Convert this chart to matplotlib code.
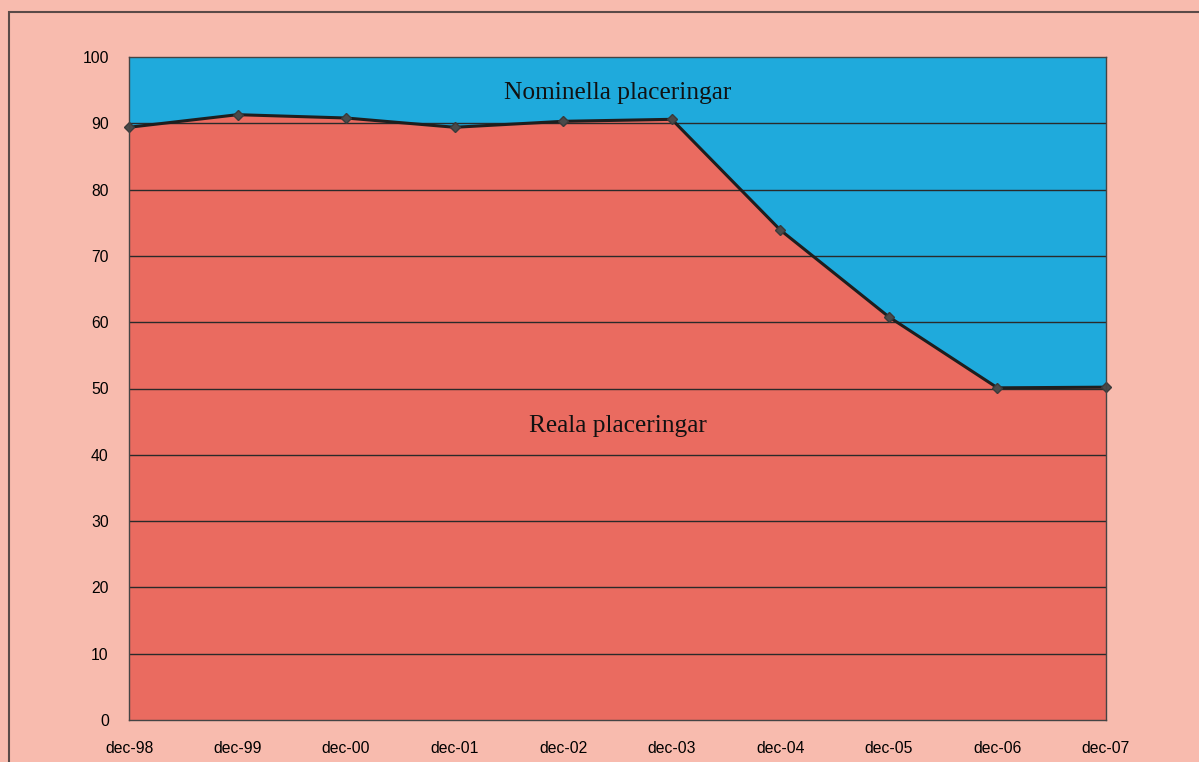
import matplotlib
matplotlib.use("Agg")
import matplotlib.pyplot as plt
from matplotlib.patches import Rectangle

labels = ["dec-98", "dec-99", "dec-00", "dec-01", "dec-02", "dec-03",
          "dec-04", "dec-05", "dec-06", "dec-07"]
reala = [89.4, 91.3, 90.8, 89.4, 90.3, 90.6, 73.9, 60.8, 50.1, 50.2]
yticks = [0, 10, 20, 30, 40, 50, 60, 70, 80, 90, 100]

bg = "#F8BBAE"
red = "#EA6B60"
blue = "#1FAADC"

fig = plt.figure(figsize=(11.99, 7.62), dpi=100)
fig.patch.set_facecolor(bg)
fig.patches.append(Rectangle((9/1199, -0.2), 1.2, 1.2 - 12/762,
                             transform=fig.transFigure, fill=False,
                             edgecolor="#5a4a48", linewidth=1.5))

ax = fig.add_axes([129/1199, 42/762, 977/1199, 663/762])
x = list(range(len(labels)))
ax.set_facecolor(blue)
ax.fill_between(x, 0, reala, color=red, zorder=1, linewidth=0)
for yv in yticks[1:-1]:
    ax.axhline(yv, color="#2a2a2a", linewidth=1.0, zorder=2)
ax.plot(x, reala, color="#1e1e1e", linewidth=2.2, zorder=3,
        marker="D", markersize=5, markerfacecolor="#4a4a4a",
        markeredgecolor="#3a3a3a", clip_on=False)

ax.set_xlim(0, 9)
ax.set_ylim(0, 100)
ax.set_yticks(yticks)
ax.set_xticks(x)
ax.set_xticklabels(labels)
ax.tick_params(length=0, labelsize=11.3)
ax.tick_params(axis="x", pad=15)
ax.tick_params(axis="y", pad=14.5)
for lab in ax.get_xticklabels() + ax.get_yticklabels():
    lab.set_family("Liberation Sans")
for s in ax.spines.values():
    s.set_color("#444444")
    s.set_linewidth(1.0)
    s.set_zorder(4)

ax.text(0.5, 0.9455, "Nominella placeringar", transform=ax.transAxes,
        ha="center", va="center", fontsize=18.3, family="Liberation Serif",
        color="#111111", zorder=4)
ax.text(0.5, 0.443, "Reala placeringar", transform=ax.transAxes,
        ha="center", va="center", fontsize=18.3, family="Liberation Serif",
        color="#111111", zorder=4)

fig.savefig("out.png", dpi=100, facecolor=bg)
